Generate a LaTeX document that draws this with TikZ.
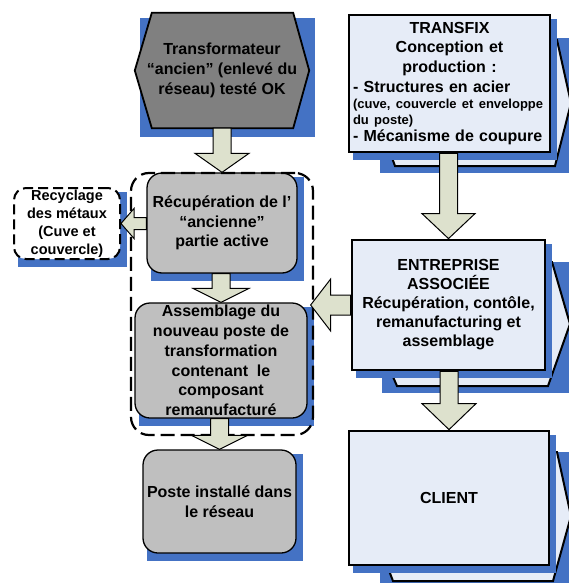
\documentclass[tikz,border=0pt]{standalone}
\usepackage{fontspec}
\setmainfont{Liberation Sans}
\usetikzlibrary{calc,backgrounds}
\setlength\parindent{0pt}
\setlength\parskip{0pt}
\definecolor{sblue}{RGB}{68,114,196}
\definecolor{lightbx}{RGB}{230,236,247}
\definecolor{grayfill}{RGB}{191,191,191}
\definecolor{hexgray}{RGB}{128,128,128}
\definecolor{arrowfill}{RGB}{221,225,205}
\tikzset{
  txt/.style={font=\bfseries\fontsize{16}{19.7}\selectfont, inner sep=0pt},
  graybox/.style={txt, align=center, draw=black, line width=1.3pt, fill=grayfill, rounded corners=15pt},
  recbox/.style={font=\bfseries\fontsize{14.5}{18}\selectfont, inner sep=0pt, align=center, draw=black,
     line width=2pt, dash pattern=on 10pt off 5pt, fill=white, rounded corners=12pt},
  rbox/.style={txt, draw=black, line width=2.8pt, fill=lightbx},
  grpbox/.style={draw=black, line width=2.2pt, dash pattern=on 14pt off 6pt, rounded corners=18pt, inner sep=0pt},
  blkarrow/.style={fill=arrowfill, draw=black, line width=1pt, line join=miter},
  chev/.style={fill=lightbx, draw=black, line width=2pt, line join=miter},
}
\newcommand\blkdown[5]{%
  \path[blkarrow] let \p1=(#1), \p2=(#2) in
    (\x2-#3,\y1) -- (\x2+#3,\y1) -- (\x2+#3,\y2+#5) -- (\x2+#4,\y2+#5) -- (\x2,\y2)
    -- (\x2-#4,\y2+#5) -- (\x2-#3,\y2+#5) -- cycle;}
\newcommand\blkleft[5]{%
  \path[blkarrow] let \p1=(#1), \p2=(#2) in
    (\x1,\y2+#3) -- (\x2+#5,\y2+#3) -- (\x2+#5,\y2+#4) -- (\x2,\y2)
    -- (\x2+#5,\y2-#4) -- (\x2+#5,\y2-#3) -- (\x1,\y2-#3) -- cycle;}
\newcommand\boxshadow[1]{%
  \fill[sblue] ($(#1.north west)+(5,5)$) rectangle ($(#1.south east)+(6,7)$);}
\begin{document}
\begin{tikzpicture}[x=1pt,y=-1pt]
\useasboundingbox (0,0) rectangle (568,583);

% ---- nodes ----
\node[txt, align=center, minimum width=174pt, minimum height=115pt] (hex) at (222,70.5)
  {Transformateur\\“ancien” (enlevé du\\réseau) testé OK};

\node[graybox, minimum width=150pt, minimum height=100pt] (rec) at (222,223)
  {Récupération de l’\\“ancienne”\\partie active};

\node[recbox, minimum width=106pt, minimum height=71pt] (recy) at (67,223.5)
  {Recyclage\\des métaux\\(Cuve et\\couvercle)};

\node[graybox, minimum width=172pt, minimum height=115pt] (asm) at (221,360.5)
  {Assemblage du\\nouveau poste de\\transformation\\contenant~ le\\composant\\remanufacturé};

\node[graybox, minimum width=153pt, minimum height=103pt] (post) at (219.5,501.5)
  {Poste installé dans\\le réseau};

\node[grpbox, minimum width=182pt, minimum height=262pt] (grp) at (222,304) {};

\node[rbox, minimum width=201pt, minimum height=137pt, text width=193pt] (tfx) at (449.5,83.5)
  {{\centering TRANSFIX\\Conception et\\production :\par}
   {\raggedright - Structures en acier\par}
   {\raggedright\fontsize{13}{16}\selectfont (cuve, couvercle et enveloppe\\du poste)\par}
   \vspace{-2pt}
   {\raggedright - Mécanisme de coupure\par}};

\node[rbox, align=center, font=\bfseries\fontsize{16}{19}\selectfont, minimum width=193pt, minimum height=130pt] (ent) at (448.5,305)
  {ENTREPRISE\\ASSOCIÉE\\Récupération, contôle,\\remanufacturing et\\assemblage};

\node[rbox, align=center, minimum width=200pt, minimum height=134pt] (cli) at (449,498)
  {CLIENT};

% ---- background: shadows, hexagon, chevrons ----
\begin{scope}[on background layer]
  \fill[sblue] ($(hex.north west)+(5,5)$) rectangle ($(hex.south east)+(6,9)$);
  \path[fill=hexgray, draw=black, line width=1.8pt, line join=miter]
    (hex.west) -- ([xshift=17pt]hex.north west) -- ([xshift=-16pt]hex.north east)
    -- (hex.east) -- ([xshift=-16pt]hex.south east) -- ([xshift=17pt]hex.south west) -- cycle;
  % chevrons behind the right-hand boxes
  \fill[sblue] (380,38) rectangle (570,173);
  \path[chev] (395,40) -- (557,40) -- (571,103) -- (555,166) -- (395,166) -- (372,103) -- cycle;
  \fill[sblue] (382,262) rectangle (570,393);
  \path[chev] (397,262) -- (552,262) -- (570,324) -- (548,386) -- (397,386) -- (370,324) -- cycle;
  \fill[sblue] (380,452) rectangle (570,590);
  \path[chev] (393,452) -- (557,452) -- (571,516) -- (553,581) -- (393,581) -- (368,516) -- cycle;
  % box shadows
  \boxshadow{rec}
  \boxshadow{recy}
  \boxshadow{asm}
  \boxshadow{post}
  \boxshadow{tfx}
  \boxshadow{ent}
  \boxshadow{cli}
\end{scope}

% ---- block arrows ----
\blkdown{hex.south}{rec.north}{9pt}{27pt}{19pt}
\blkdown{rec.south}{asm.north}{9pt}{28pt}{14pt}
\blkdown{asm.south}{post.north}{9pt}{28pt}{14pt}
\blkdown{tfx.south}{ent.north}{9pt}{26.5pt}{25pt}
\blkdown{ent.south}{cli.north}{9pt}{27pt}{26pt}
\blkleft{rec.west}{recy.east}{6pt}{15pt}{13pt}
\coordinate (a5tip) at ($(ent.west -| asm.east)+(3,0)$);
\blkleft{ent.west}{a5tip}{10pt}{26pt}{20pt}
\end{tikzpicture}
\end{document}
